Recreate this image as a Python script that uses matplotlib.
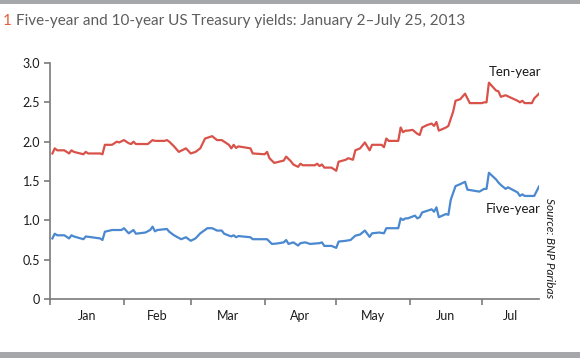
import matplotlib
matplotlib.use("Agg")
import matplotlib.pyplot as plt
import matplotlib.dates as mdates
import numpy as np
import pandas as pd
from matplotlib.patches import Rectangle

plt.rcParams['font.family'] = ['Lato', 'DejaVu Sans']

ten_dates = ["01-02","01-03","01-04","01-07","01-09","01-10","01-11","01-15","01-16","01-17",
             "01-22","01-23","01-24","01-27","01-29","01-30","02-01","02-03","02-04","02-05",
             "02-06","02-11","02-13","02-14","02-18","02-19","02-20","02-22","02-24","02-27",
             "03-01","03-03","03-05","03-07","03-10","03-12","03-14","03-17","03-18","03-19",
             "03-20","03-21","03-26","03-27","04-01","04-02","04-03","04-05","04-09","04-10",
             "04-12","04-13","04-15","04-16","04-17","04-22","04-23","04-24","04-25","04-26",
             "04-29","05-01","05-02","05-05","05-06","05-08","05-09","05-11","05-13","05-15",
             "05-16","05-20","05-21","05-22","05-23","05-27","05-28","05-29","05-30","05-31",
             "06-02","06-04","06-05","06-06","06-08","06-10","06-11","06-12","06-13","06-16",
             "06-17","06-19","06-20","06-22","06-24","06-26","07-01","07-02","07-03","07-04",
             "07-07","07-08","07-09","07-11","07-16","07-17","07-18","07-19","07-22","07-23",
             "07-25"]
ten_year = [1.85,1.915,1.89,1.89,1.85,1.89,1.87,1.84,1.87,1.85,
            1.85,1.84,1.96,1.96,2.00,1.99,2.02,1.98,1.97,2.00,
            1.97,1.97,2.02,2.01,2.01,2.02,2.00,1.94,1.87,1.915,
            1.85,1.87,1.915,2.04,2.07,2.02,2.02,1.96,1.915,1.96,
            1.92,1.94,1.915,1.85,1.84,1.87,1.79,1.73,1.76,1.81,
            1.75,1.71,1.68,1.72,1.70,1.70,1.72,1.69,1.71,1.67,
            1.67,1.63,1.745,1.77,1.79,1.77,1.89,1.915,1.99,1.89,
            1.96,1.96,1.93,2.04,2.01,2.01,2.18,2.12,2.14,2.14,
            2.15,2.10,2.085,2.18,2.21,2.23,2.20,2.25,2.14,2.18,
            2.20,2.38,2.52,2.54,2.61,2.49,2.49,2.50,2.50,2.75,
            2.65,2.64,2.57,2.59,2.52,2.50,2.52,2.49,2.49,2.55,
            2.61]

five_dates = ["01-02","01-03","01-04","01-07","01-09","01-10","01-11","01-15","01-16","01-22",
              "01-23","01-24","01-27","01-31","02-01","02-03","02-05","02-06","02-10","02-12",
              "02-13","02-14","02-15","02-19","02-20","02-22","02-25","02-27","03-01","03-03",
              "03-05","03-08","03-10","03-12","03-14","03-15","03-18","03-19","03-20","03-21",
              "03-26","03-27","04-02","04-04","04-06","04-09","04-10","04-11","04-13","04-15",
              "04-16","04-18","04-20","04-24","04-25","04-26","04-29","05-01","05-02","05-05",
              "05-07","05-09","05-11","05-13","05-15","05-16","05-19","05-21","05-22","05-27",
              "05-28","05-29","05-30","05-31","06-03","06-04","06-05","06-06","06-09","06-10",
              "06-11","06-12","06-13","06-16","06-17","06-18","06-20","06-22","06-24","06-25",
              "06-30","07-02","07-03","07-04","07-07","07-08","07-09","07-11","07-12","07-16",
              "07-17","07-18","07-19","07-23","07-25"]
five_year = [0.77,0.83,0.81,0.81,0.77,0.81,0.795,0.76,0.795,0.77,
             0.75,0.855,0.877,0.877,0.90,0.835,0.877,0.83,0.845,0.877,
             0.92,0.86,0.877,0.89,0.855,0.81,0.76,0.785,0.74,0.77,
             0.835,0.90,0.90,0.87,0.87,0.83,0.795,0.81,0.785,0.80,
             0.785,0.76,0.76,0.70,0.705,0.72,0.75,0.70,0.72,0.68,
             0.71,0.72,0.70,0.71,0.72,0.675,0.675,0.65,0.73,0.74,
             0.75,0.805,0.82,0.87,0.79,0.835,0.845,0.835,0.90,0.90,
             1.025,1.005,1.025,1.025,1.06,1.025,1.04,1.10,1.13,1.14,
             1.11,1.165,1.04,1.08,1.07,1.26,1.435,1.46,1.49,1.39,
             1.365,1.40,1.40,1.605,1.52,1.48,1.45,1.40,1.42,1.355,
             1.31,1.33,1.31,1.31,1.43]

month_labels = ["Jan", "Feb", "Mar", "Apr", "May", "Jun", "Jul"]
y_ticks = [0, 0.5, 1.0, 1.5, 2.0, 2.5, 3.0]
y_tick_labels = ["0", "0.5", "1.0", "1.5", "2.0", "2.5", "3.0"]

ten_x = pd.to_datetime(["2013-" + d for d in ten_dates])
five_x = pd.to_datetime(["2013-" + d for d in five_dates])

RED = "#d9524a"
BLUE = "#4a88cf"
SPINE = "#7a7a7a"

fig = plt.figure(figsize=(5.8, 3.58), dpi=100)
fig.patch.set_facecolor("white")

# top and bottom gray bands
fig.add_artist(Rectangle((0, 1 - 4/358), 1, 4/358, transform=fig.transFigure,
                         facecolor="#a5a7aa", edgecolor="none"))
fig.add_artist(Rectangle((0, 0), 1, 6/358, transform=fig.transFigure,
                         facecolor="#a5a7aa", edgecolor="none"))

# title
t1 = fig.text(3/580, 1 - 21/358, "1", color="#e2603c", fontsize=11, va="center", ha="left")
fig.canvas.draw()
bb = t1.get_window_extent()
fig.text((bb.x1 + 4) / 580, 1 - 21/358, "Five-year and 10-year US Treasury yields: January 2\u2013July 25, 2013",
         color="#5d5d5d", fontsize=11, va="center", ha="left")

ax = fig.add_axes([50/580, 1 - 299/358, (539 - 50)/580, (299 - 63)/358])
ax.plot(ten_x, ten_year, color=RED, lw=1.6, solid_joinstyle="round")
ax.plot(five_x, five_year, color=BLUE, lw=1.6, solid_joinstyle="round")

ax.set_ylim(0, 3.0)
ax.set_xlim(pd.Timestamp("2013-01-01"), pd.Timestamp("2013-07-25"))

ax.set_yticks(y_ticks)
ax.set_yticklabels(y_tick_labels)

major = pd.date_range("2013-01-01", "2013-07-01", freq="MS")
ax.set_xticks(major)
ax.set_xticklabels([""] * len(major))
mids = [m + (pd.Timestamp("2013-%02d-01" % (i + 2)) - m) / 2 for i, m in enumerate(major)]
mids[-1] = pd.Timestamp("2013-07-13")
ax.set_xticks(mids, minor=True)
ax.set_xticklabels(month_labels, minor=True)

ax.tick_params(axis="x", which="major", direction="out", length=4, width=1.2, color=SPINE)
ax.tick_params(axis="x", which="minor", length=0, pad=8, labelsize=9, labelcolor="#1a1a1a")
ax.tick_params(axis="y", direction="out", length=4, width=1.2, color=SPINE, pad=3,
               labelsize=9, labelcolor="#1a1a1a")

for s in ["top", "right"]:
    ax.spines[s].set_visible(False)
for s in ["left", "bottom"]:
    ax.spines[s].set_color(SPINE)
    ax.spines[s].set_linewidth(1.2)

ax.text(pd.Timestamp("2013-07-15"), 2.88, "Ten-year", ha="center", va="center",
        fontsize=9.5, color="#1a1a1a")
ax.text(pd.Timestamp("2013-07-14"), 1.15, "Five-year", ha="center", va="center",
        fontsize=9.5, color="#1a1a1a")

fig.text(550/580, 1 - 248/358, "Source: BNP Paribas", rotation=-90, style="italic",
         ha="center", va="center", fontsize=8.5, color="#1a1a1a")

fig.savefig("out.png", dpi=100, facecolor="white")
